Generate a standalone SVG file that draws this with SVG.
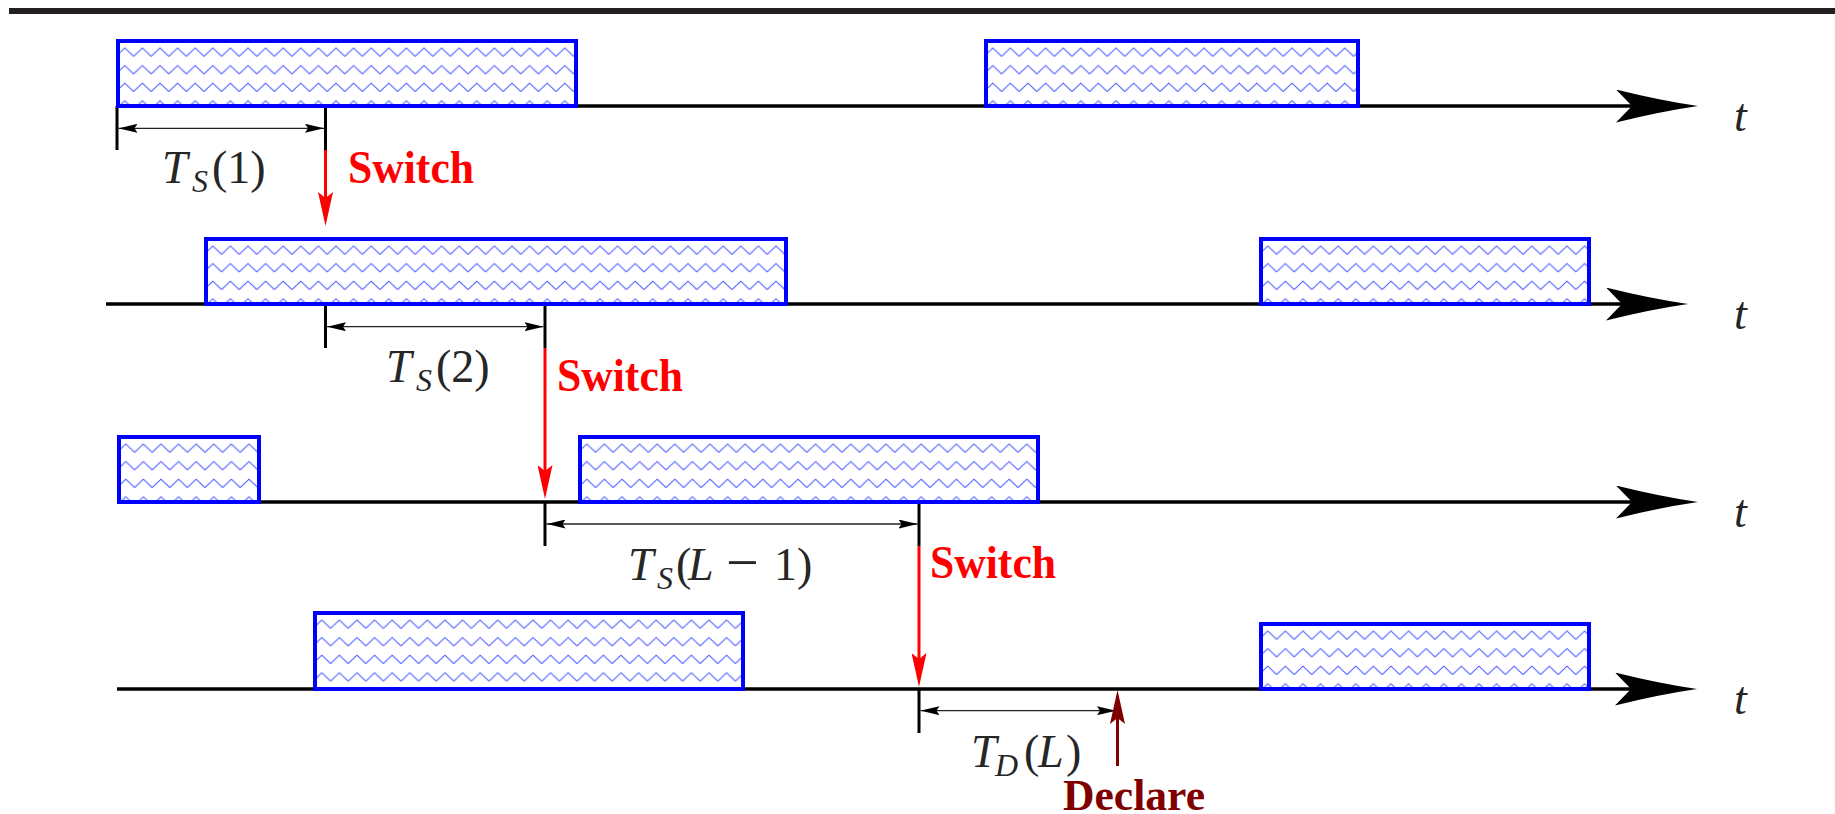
<svg xmlns="http://www.w3.org/2000/svg" width="1835" height="814" viewBox="0 0 1835 814">
<style>
.box{fill:url(#zz);stroke:#0000ff;stroke-width:4}
.axis{stroke:#000;stroke-width:3.5;fill:none;marker-end:url(#axh)}
.tick{stroke:#000;stroke-width:3;fill:none}
.dim{stroke:#222;stroke-width:1.3;fill:none;marker-start:url(#dh);marker-end:url(#dh)}
.red{stroke:#ff0000;stroke-width:3;fill:none;marker-end:url(#rh)}
.dred{stroke:#800000;stroke-width:3;fill:none;marker-end:url(#drh)}
.sw{font-family:"Liberation Serif","Times New Roman",serif;font-weight:bold;font-size:46px;fill:#ff0000}
.dc{font-family:"Liberation Serif","Times New Roman",serif;font-weight:bold;font-size:45px;fill:#800000}
.m{font-family:"Liberation Serif","Times New Roman",serif;font-size:46px;fill:#262626}
.i{font-style:italic}
.sub{font-size:32px;font-style:italic}
</style>
<defs>
<pattern id="zz" patternUnits="userSpaceOnUse" width="17.6" height="17.6">
<path d="M-0.5,17.8 L8.8,9 L18.1,17.8" fill="none" stroke="#4455ff" stroke-width="1.1"/>
</pattern>
<marker id="axh" markerUnits="userSpaceOnUse" viewBox="0 0 82 33" refX="18" refY="16.5" markerWidth="82" markerHeight="33" orient="auto">
<path d="M0,0 Q44,11 82,16.5 Q44,22 0,33 L16,16.5 Z" fill="#000"/>
</marker>
<marker id="dh" markerUnits="userSpaceOnUse" viewBox="0 0 19 9" refX="19" refY="4.5" markerWidth="19" markerHeight="9" orient="auto-start-reverse">
<path d="M0,0 L19,4.5 L0,9 L3,4.5 Z" fill="#000"/>
</marker>
<marker id="rh" markerUnits="userSpaceOnUse" viewBox="0 0 34 15" refX="14" refY="7.5" markerWidth="34" markerHeight="15" orient="auto">
<path d="M0,0 L34,7.5 L0,15 L6,7.5 Z" fill="#ff0000"/>
</marker>
<marker id="drh" markerUnits="userSpaceOnUse" viewBox="0 0 34 15" refX="14" refY="7.5" markerWidth="34" markerHeight="15" orient="auto">
<path d="M0,0 L34,7.5 L0,15 L6,7.5 Z" fill="#800000"/>
</marker>
</defs>

<rect x="9" y="8" width="1826" height="6" fill="#231f20"/>

<g id="connectors">
<line class="axis" x1="116" y1="106" x2="1634" y2="106"/>
<line class="axis" x1="106" y1="304" x2="1624" y2="304"/>
<line class="axis" x1="117" y1="502" x2="1634" y2="502"/>
<line class="axis" x1="117" y1="689" x2="1633" y2="689"/>

<line class="tick" x1="117" y1="106" x2="117" y2="150"/>
<line class="tick" x1="325.5" y1="106" x2="325.5" y2="150"/>
<line class="tick" x1="325.5" y1="304" x2="325.5" y2="348"/>
<line class="tick" x1="545" y1="304" x2="545" y2="348"/>
<line class="tick" x1="545" y1="502" x2="545" y2="546"/>
<line class="tick" x1="919" y1="502" x2="919" y2="546"/>
<line class="tick" x1="919" y1="689" x2="919" y2="733"/>

<line class="dim" x1="118.5" y1="128.3" x2="324" y2="128.3"/>
<line class="dim" x1="327" y1="326.7" x2="543.5" y2="326.7"/>
<line class="dim" x1="546.5" y1="524" x2="917.5" y2="524"/>
<line class="dim" x1="920.5" y1="710.7" x2="1116" y2="710.7"/>

<line class="red" x1="325.5" y1="150" x2="325.5" y2="206"/>
<line class="red" x1="545" y1="348" x2="545" y2="479"/>
<line class="red" x1="919" y1="546" x2="919" y2="667"/>
<line class="dred" x1="1117.5" y1="766" x2="1117.5" y2="710"/>
</g>

<g id="box-r1-a" transform="translate(116,39)"><rect class="box" x="2" y="2" width="458" height="65"/></g>
<g id="box-r1-b" transform="translate(984,39)"><rect class="box" x="2" y="2" width="372" height="65"/></g>
<g id="box-r2-a" transform="translate(204,237)"><rect class="box" x="2" y="2" width="580" height="65"/></g>
<g id="box-r2-b" transform="translate(1259,237)"><rect class="box" x="2" y="2" width="328" height="65"/></g>
<g id="box-r3-a" transform="translate(117,435)"><rect class="box" x="2" y="2" width="140" height="65"/></g>
<g id="box-r3-b" transform="translate(578,435)"><rect class="box" x="2" y="2" width="458" height="65"/></g>
<g id="box-r4-a" transform="translate(313,611)"><rect class="box" x="2" y="2" width="428" height="76"/></g>
<g id="box-r4-b" transform="translate(1259,622)"><rect class="box" x="2" y="2" width="328" height="65"/></g>

<g id="labels">
<text class="m i" x="1734" y="131">t</text>
<text class="m i" x="1734" y="329">t</text>
<text class="m i" x="1734" y="527">t</text>
<text class="m i" x="1734" y="714">t</text>

<text class="m"><tspan class="i" x="162" y="183">T</tspan><tspan class="sub" x="192" y="191.5">S</tspan><tspan x="212" y="183">(1)</tspan></text>
<text class="m"><tspan class="i" x="386" y="382">T</tspan><tspan class="sub" x="416" y="390.5">S</tspan><tspan x="436" y="382">(2)</tspan></text>
<text class="m"><tspan class="i" x="628" y="580">T</tspan><tspan class="sub" x="657" y="588.5">S</tspan><tspan x="676" y="580">(</tspan><tspan class="i" x="688" y="580">L</tspan><tspan x="726" y="582" font-size="58">−</tspan><tspan x="774" y="580">1)</tspan></text>
<text class="m"><tspan class="i" x="971" y="767">T</tspan><tspan class="sub" x="995" y="775.5">D</tspan><tspan x="1024" y="767">(</tspan><tspan class="i" x="1038" y="767">L</tspan><tspan x="1066" y="767">)</tspan></text>

<text class="sw" x="348" y="183" textLength="126" lengthAdjust="spacingAndGlyphs">Switch</text>
<text class="sw" x="557" y="391" textLength="126" lengthAdjust="spacingAndGlyphs">Switch</text>
<text class="sw" x="930" y="578" textLength="126" lengthAdjust="spacingAndGlyphs">Switch</text>
<text class="dc" x="1063" y="810" textLength="142" lengthAdjust="spacingAndGlyphs">Declare</text>
</g>
</svg>
